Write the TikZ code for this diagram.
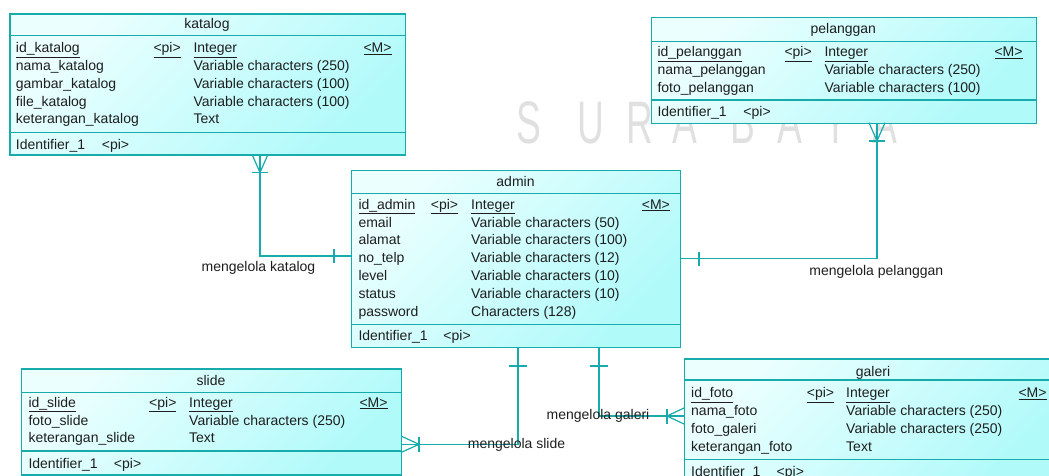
\documentclass[tikz,border=0pt]{standalone}
\usepackage{fontspec}
\setmainfont{Liberation Sans}
\usepackage{array}
\usepackage{graphicx}
\setlength{\tabcolsep}{0pt}
\definecolor{erline}{RGB}{23,171,171}
\definecolor{erlight}{RGB}{236,255,255}
\definecolor{erdark}{RGB}{176,250,250}
\definecolor{ertext}{RGB}{30,30,30}
\definecolor{wmgray}{RGB}{224,224,224}

\begin{document}
\begin{tikzpicture}[x=1pt, y=-1pt,
    entity/.style={draw=erline, line width=1.2pt, top color=erlight, bottom color=erdark, shading angle=45, inner sep=0pt, anchor=north west},
    sep/.style={draw=erline, line width=1.2pt},
    rel/.style={draw=erline, line width=1.2pt},
    title/.style={anchor=base, inner sep=0pt, text=ertext, font=\fontsize{14}{17.8}\selectfont},
    attrs/.style={anchor=base west, inner sep=0pt, text=ertext, font=\fontsize{14}{17.8}\selectfont},
    rellabel/.style={anchor=base, inner sep=0pt, text=ertext, font=\fontsize{14}{17}\selectfont},
    wm/.style={anchor=base, inner sep=0pt, text=wmgray, font=\fontsize{60}{60}\selectfont}]
    \useasboundingbox (0,0) rectangle (1049,475);

    % Watermark
    \foreach \ch/\px in {S/529, U/591, R/640, A/685, B/743, A/790, Y/836, A/885}
        \node[wm] (wm\px) at (\px,143) {\scalebox{0.62}[1]{\ch}};

    % Entities
    \node[entity, minimum width=395.7pt, minimum height=141pt] (katalog) at (9.3,13.3) {};
    \draw[sep] (9.3,35.7) -- (405,35.7);
    \draw[sep] (9.3,132.3) -- (405,132.3);
    \node[title] (katalog-title) at (207,28.8) {katalog};
    \node[attrs] (katalog-attr) at (15.7,52.6) {\begin{tabular}[t]{@{}w{l}{137.6pt}w{l}{40pt}w{l}{170pt}l@{}}
        \underline{id\_katalog} & \underline{<pi>} & \underline{Integer} & \underline{<M>}\\
        nama\_katalog & & Variable characters (250) & \\
        gambar\_katalog & & Variable characters (100) & \\
        file\_katalog & & Variable characters (100) & \\
        keterangan\_katalog & & Text &
    \end{tabular}};
    \node[attrs] (katalog-id) at (15.7,149) {\makebox[86pt][l]{Identifier\_1}<pi>};

    \node[entity, minimum width=385.3pt, minimum height=106pt] (pelanggan) at (650.7,16.7) {};
    \draw[sep] (650.7,41.7) -- (1036,41.7);
    \draw[sep] (650.7,100) -- (1036,100);
    \node[title] (pelanggan-title) at (843.3,33.5) {pelanggan};
    \node[attrs] (pelanggan-attr) at (657.3,56.9) {\begin{tabular}[t]{@{}w{l}{127pt}w{l}{40pt}w{l}{170pt}l@{}}
        \underline{id\_pelanggan} & \underline{<pi>} & \underline{Integer} & \underline{<M>}\\
        nama\_pelanggan & & Variable characters (250) & \\
        foto\_pelanggan & & Variable characters (100) &
    \end{tabular}};
    \node[attrs] (pelanggan-id) at (657.3,116.7) {\makebox[86pt][l]{Identifier\_1}<pi>};

    \node[entity, minimum width=329pt, minimum height=176.7pt] (admin) at (351,170) {};
    \draw[sep] (351,193.3) -- (680,193.3);
    \draw[sep] (351,324.3) -- (680,324.3);
    \node[title] (admin-title) at (515.5,186.2) {admin};
    \node[attrs] (admin-attr) at (358.3,209.2) {\begin{tabular}[t]{@{}w{l}{72.4pt}w{l}{40.3pt}w{l}{170.7pt}l@{}}
        \underline{id\_admin} & \underline{<pi>} & \underline{Integer} & \underline{<M>}\\
        email & & Variable characters (50) & \\
        alamat & & Variable characters (100) & \\
        no\_telp & & Variable characters (12) & \\
        level & & Variable characters (10) & \\
        status & & Variable characters (10) & \\
        password & & Characters (128) &
    \end{tabular}};
    \node[attrs] (admin-id) at (358.3,340.7) {\makebox[85pt][l]{Identifier\_1}<pi>};

    \node[entity, minimum width=380pt, minimum height=106pt] (slide) at (21,368.3) {};
    \draw[sep] (21,392.3) -- (401,392.3);
    \draw[sep] (21,451) -- (401,451);
    \node[title] (slide-title) at (211,385.2) {slide};
    \node[attrs] (slide-attr) at (28.3,407.2) {\begin{tabular}[t]{@{}w{l}{120.7pt}w{l}{40pt}w{l}{170.3pt}l@{}}
        \underline{id\_slide} & \underline{<pi>} & \underline{Integer} & \underline{<M>}\\
        foto\_slide & & Variable characters (250) & \\
        keterangan\_slide & & Text &
    \end{tabular}};
    \node[attrs] (slide-id) at (28.3,468.3) {\makebox[85.5pt][l]{Identifier\_1}<pi>};

    \node[entity, minimum width=378pt, minimum height=126pt] (galeri) at (684,358.3) {};
    \draw[sep] (684,380) -- (1062,380);
    \draw[sep] (684,459.3) -- (1062,459.3);
    \node[title] (galeri-title) at (873,376.2) {galeri};
    \node[attrs] (galeri-attr) at (691,397.6) {\begin{tabular}[t]{@{}w{l}{115.7pt}w{l}{39.3pt}w{l}{172.3pt}l@{}}
        \underline{id\_foto} & \underline{<pi>} & \underline{Integer} & \underline{<M>}\\
        nama\_foto & & Variable characters (250) & \\
        foto\_galeri & & Variable characters (250) & \\
        keterangan\_foto & & Text &
    \end{tabular}};
    \node[attrs] (galeri-id) at (691,476.7) {\makebox[85.5pt][l]{Identifier\_1}<pi>};

    % Relations
    \coordinate (kbend) at (260,256);
    \draw[rel] (katalog.south -| kbend) -- (kbend) -- (kbend -| admin.west);
    \draw[rel] (252,154.3) -- (260,172.5) -- (268,154.3);
    \draw[rel] (252,172.5) -- (268,172.5);
    \draw[rel] (334,249) -- (334,263);
    \node[rellabel] (katalog-rel) at (258.5,271.5) {mengelola katalog};

    \coordinate (pbend) at (877,258.5);
    \draw[rel] (admin.east |- pbend) -- (pbend) -- (pbend |- pelanggan.south);
    \draw[rel] (869,122.7) -- (877,141) -- (885,122.7);
    \draw[rel] (869,141) -- (885,141);
    \draw[rel] (699,251.5) -- (699,265.5);
    \node[rellabel] (pelanggan-rel) at (876.3,275.5) {mengelola pelanggan};

    \coordinate (sbend) at (518,444.3);
    \draw[rel] (admin.south -| sbend) -- (sbend) -- (sbend -| slide.east);
    \draw[rel] (401,436) -- (419,444.3) -- (401,452.5);
    \draw[rel] (419,436.5) -- (419,452);
    \draw[rel] (509,366) -- (527,366);
    \node[rellabel] (slide-rel) at (516.5,448.8) {mengelola slide};

    \coordinate (gbend) at (599,416);
    \draw[rel] (admin.south -| gbend) -- (gbend) -- (gbend -| galeri.west);
    \draw[rel] (684,408) -- (667,416) -- (684,424);
    \draw[rel] (667,408.5) -- (667,423.5);
    \draw[rel] (590,366) -- (608,366);
    \node[rellabel] (galeri-rel) at (598,419.5) {mengelola galeri};
\end{tikzpicture}
\end{document}
